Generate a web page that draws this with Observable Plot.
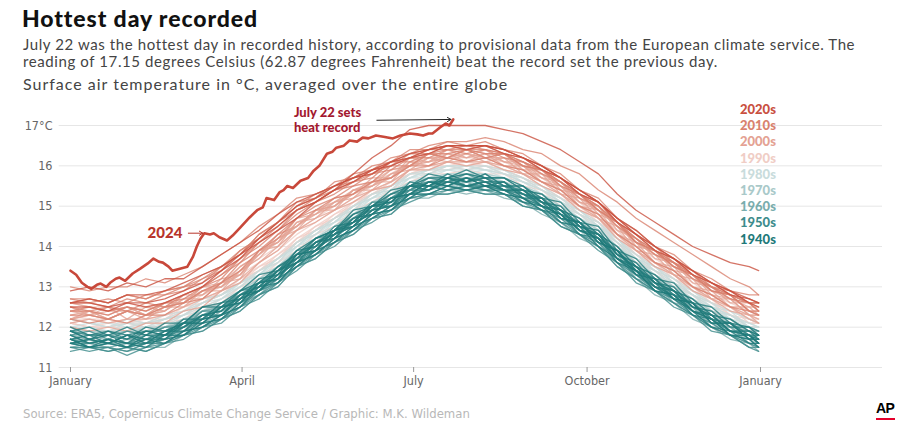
<!DOCTYPE html>
<html><head><meta charset="utf-8">
<script src="https://cdn.jsdelivr.net/npm/d3@7"></script>
<script src="https://cdn.jsdelivr.net/npm/@observablehq/plot@0.6"></script>
<style>
body{margin:0;background:#fff;}
#wrap{position:relative;width:920px;height:434px;overflow:hidden;font-family:Lato,"Open Sans",sans-serif;background:#fff;}
.title{position:absolute;left:22px;top:6px;font-size:23px;line-height:24px;font-weight:900;color:#111;letter-spacing:0.9px;white-space:nowrap;}
.sub{position:absolute;left:23px;top:36px;font-size:15px;line-height:17px;color:#444;width:835px;letter-spacing:0.6px;}
.unit{position:absolute;left:23px;top:75px;font-size:16px;line-height:18px;color:#444;letter-spacing:1px;white-space:nowrap;}
#chart{position:absolute;left:0;top:95px;}
.legend{position:absolute;left:740px;top:101px;}
.legend div{font-size:13px;line-height:16.2px;font-weight:900;white-space:nowrap;}
.source{position:absolute;left:23px;top:407px;font-family:"Liberation Sans Narrow","DejaVu Sans Condensed",sans-serif;font-size:13px;line-height:14px;color:#b8b8b8;white-space:nowrap;}
.ap{position:absolute;left:876px;top:401px;font-family:"Liberation Sans",Arial,sans-serif;font-weight:bold;font-size:14px;line-height:15px;color:#000;letter-spacing:-0.5px;}
.apbar{position:absolute;left:876px;top:418px;width:19px;height:2px;background:#e4002b;}
</style></head><body>
<div id="wrap">
  <div class="title">Hottest day recorded</div>
  <div class="sub">July 22 was the hottest day in recorded history, according to provisional data from the European climate service. The reading of 17.15 degrees Celsius (62.87 degrees Fahrenheit) beat the record set the previous day.</div>
  <div class="unit">Surface air temperature in °C, averaged over the entire globe</div>
  <div id="chart"></div>
  <div class="legend" id="legend"></div>
  <div class="source">Source: ERA5, Copernicus Climate Change Service / Graphic: M.K. Wildeman</div>
  <div class="ap">AP</div>
  <div class="apbar"></div>
</div>
<script>
// ---- data: day of year (0 = Jan 1) and daily global mean temperature, °C ----
const days = [0,10,20,30,40,50,60,70,80,90,100,110,120,130,140,150,160,170,180,190,200,210,220,230,240,250,260,270,280,290,300,310,320,330,340,350,360,365];

const y1940s = [
[11.7,11.8,11.6,11.8,11.6,11.9,11.9,12.3,12.3,12.8, 12.9,13.4,13.6,14.1,14.2,14.7,14.8,15.2,15.3,15.6, 15.5,15.7,15.5,15.6,15.2,15.2,14.7,14.6,14.1,13.9, 13.3,13.2,12.7,12.6,12.1,12.1,11.7,11.8],
[11.9,11.7,11.9,11.8,11.9,11.8,12.2,12.2,12.6,12.7, 13.2,13.3,13.9,14.0,14.5,14.6,15.1,15.1,15.6,15.5, 15.8,15.6,15.8,15.5,15.5,15.1,15.0,14.5,14.4,13.8, 13.6,13.1,13.0,12.5,12.4,12.0,12.0,11.8],
[12.0,11.8,11.9,11.7,12.0,11.9,12.1,12.5,12.5,12.9, 13.1,13.5,13.8,14.2,14.4,14.8,15.0,15.3,15.5,15.7, 15.7,15.8,15.7,15.7,15.4,15.3,14.9,14.7,14.3,14.0, 13.5,13.3,12.9,12.7,12.3,12.2,11.9,11.8],
[11.8,11.6,11.7,11.5,11.8,11.7,12.1,12.1,12.5,12.6, 13.1,13.2,13.8,13.9,14.4,14.5,15.0,15.0,15.5,15.4, 15.7,15.5,15.6,15.4,15.4,15.0,14.9,14.4,14.3,13.7, 13.5,13.0,12.9,12.4,12.3,11.9,11.9,11.7],
[11.9,12.0,11.8,12.0,11.8,12.1,12.1,12.5,12.6,12.9, 13.3,13.4,13.9,14.2,14.4,14.9,15.0,15.4,15.5,15.8, 15.7,15.9,15.7,15.7,15.5,15.2,15.1,14.6,14.5,13.9, 13.7,13.2,13.1,12.6,12.5,12.1,12.0,11.9],
[11.9,11.7,11.8,11.6,11.9,11.8,12.0,12.3,12.4,12.8, 13.0,13.4,13.7,14.1,14.3,14.6,15.0,15.1,15.5,15.5, 15.7,15.6,15.7,15.4,15.4,15.1,14.9,14.5,14.3,13.8, 13.5,13.1,12.9,12.5,12.3,11.9,11.8,11.6],
[11.6,11.5,11.6,11.5,11.6,11.7,11.8,12.1,12.2,12.6, 12.9,13.2,13.5,13.9,14.1,14.5,14.7,15.0,15.2,15.5, 15.4,15.5,15.4,15.4,15.1,15.0,14.6,14.5,14.0,13.7, 13.3,13.0,12.7,12.4,12.0,11.9,11.6,11.6],
[11.7,11.5,11.7,11.6,11.5,11.8,11.8,12.2,12.3,12.7, 12.9,13.3,13.6,13.9,14.3,14.5,14.9,15.0,15.3,15.4, 15.6,15.5,15.5,15.4,15.2,15.0,14.8,14.4,14.2,13.7, 13.4,12.9,12.8,12.4,12.2,11.8,11.8,11.6],
[11.6,11.7,11.6,11.8,11.7,11.8,12.1,12.1,12.5,12.6, 13.1,13.2,13.8,13.9,14.4,14.6,14.8,15.2,15.3,15.6, 15.5,15.7,15.5,15.5,15.3,15.1,14.7,14.6,14.1,13.9, 13.4,13.1,12.7,12.6,12.1,12.1,11.7,11.7],
[11.7,11.5,11.6,11.5,11.7,11.6,11.9,12.0,12.3,12.5, 13.0,13.1,13.6,13.8,14.2,14.4,14.8,14.9,15.3,15.3, 15.5,15.4,15.5,15.3,15.2,14.9,14.8,14.3,14.2,13.6, 13.4,12.9,12.8,12.3,12.2,11.8,11.7,11.5]
];
const y1950s = [
[11.5,11.5,11.4,11.5,11.4,11.6,11.7,12.0,12.1,12.5, 12.7,13.1,13.4,13.8,14.0,14.4,14.6,14.9,15.1,15.3, 15.3,15.4,15.3,15.3,15.0,14.9,14.5,14.3,14.0,13.5, 13.2,12.9,12.6,12.3,12.0,11.8,11.6,11.5],
[11.6,11.7,11.6,11.8,11.7,11.9,12.0,12.3,12.4,12.8, 13.0,13.4,13.7,14.1,14.3,14.7,14.9,15.2,15.4,15.6, 15.6,15.7,15.6,15.6,15.3,15.2,14.8,14.6,14.2,13.9, 13.4,13.2,12.8,12.6,12.2,12.1,11.8,11.8],
[11.8,11.6,11.7,11.6,11.6,11.8,11.9,12.2,12.3,12.7, 12.9,13.3,13.6,14.0,14.2,14.6,14.8,15.1,15.3,15.5, 15.6,15.5,15.6,15.4,15.3,15.0,14.8,14.4,14.2,13.7, 13.4,13.0,12.8,12.4,12.2,11.9,11.8,11.6],
[11.8,11.9,11.7,11.9,11.8,12.0,12.0,12.4,12.4,12.9, 13.0,13.5,13.7,14.2,14.3,14.8,14.9,15.3,15.4,15.7, 15.6,15.8,15.6,15.6,15.3,15.2,14.8,14.6,14.2,13.9, 13.4,13.2,12.8,12.6,12.2,12.1,11.8,11.7],
[11.6,11.5,11.5,11.4,11.6,11.6,11.9,12.0,12.3,12.5, 12.9,13.1,13.6,13.8,14.2,14.4,14.8,14.9,15.3,15.3, 15.5,15.4,15.5,15.3,15.2,14.9,14.7,14.3,14.1,13.6, 13.3,12.9,12.7,12.3,12.1,11.8,11.7,11.5],
[11.5,11.4,11.5,11.3,11.5,11.6,11.8,12.0,12.2,12.5, 12.8,13.1,13.5,13.8,14.1,14.4,14.7,14.9,15.2,15.3, 15.4,15.4,15.4,15.3,15.1,14.9,14.6,14.3,14.0,13.6, 13.2,12.9,12.6,12.3,12.0,11.8,11.5,11.4],
[11.4,11.5,11.4,11.5,11.4,11.6,11.8,11.9,12.2,12.4, 12.8,13.0,13.5,13.7,14.1,14.3,14.7,14.8,15.2,15.3, 15.3,15.4,15.3,15.3,15.0,14.9,14.5,14.3,13.9,13.6, 13.1,12.9,12.5,12.3,11.9,11.8,11.5,11.5],
[11.6,11.6,11.7,11.6,11.8,11.8,12.1,12.2,12.5,12.7, 13.1,13.3,13.8,14.0,14.4,14.6,15.0,15.1,15.5,15.5, 15.7,15.6,15.7,15.5,15.4,15.1,14.9,14.5,14.3,13.8, 13.5,13.1,12.9,12.5,12.3,11.9,11.9,11.8],
[11.9,11.8,11.8,11.7,11.9,11.9,12.1,12.3,12.5,12.8, 13.1,13.4,13.8,14.1,14.4,14.7,15.0,15.2,15.5,15.6, 15.6,15.7,15.6,15.6,15.3,15.2,14.8,14.6,14.2,13.9, 13.4,13.2,12.8,12.6,12.2,12.1,11.8,11.7],
[11.7,11.6,11.7,11.6,11.7,11.7,12.0,12.2,12.3,12.7, 13.0,13.2,13.7,13.9,14.3,14.5,14.9,15.0,15.4,15.4, 15.6,15.5,15.6,15.4,15.3,15.0,14.8,14.4,14.2,13.7, 13.4,13.0,12.8,12.4,12.2,11.9,11.8,11.6]
];
const y1960s = [
[11.7,11.7,11.6,11.8,11.6,11.9,11.9,12.3,12.3,12.8, 12.9,13.4,13.6,14.1,14.2,14.7,14.8,15.2,15.3,15.6, 15.5,15.7,15.5,15.6,15.2,15.2,14.7,14.6,14.1,13.9, 13.3,13.2,12.7,12.6,12.1,12.1,11.7,11.7],
[11.7,11.8,11.8,11.7,11.9,11.9,12.2,12.2,12.6,12.8, 13.1,13.4,13.8,14.1,14.3,14.7,15.0,15.2,15.4,15.6, 15.7,15.6,15.8,15.5,15.5,15.1,15.0,14.5,14.4,13.8, 13.6,13.1,13.0,12.5,12.4,12.0,12.0,11.8],
[11.8,11.7,11.8,11.7,11.7,11.9,12.0,12.3,12.4,12.8, 13.0,13.4,13.7,14.1,14.3,14.7,14.9,15.2,15.4,15.6, 15.6,15.7,15.6,15.6,15.3,15.2,14.8,14.6,14.2,13.9, 13.4,13.2,12.8,12.6,12.2,12.1,11.8,11.7],
[11.7,11.6,11.8,11.7,11.8,11.8,12.1,12.2,12.5,12.7, 13.1,13.3,13.8,14.0,14.4,14.6,15.0,15.1,15.5,15.5, 15.7,15.6,15.7,15.5,15.4,15.2,14.9,14.6,14.3,13.9, 13.5,13.2,12.9,12.6,12.3,12.0,11.9,11.8],
[11.7,11.5,11.5,11.4,11.5,11.5,11.8,11.9,12.2,12.4, 12.8,13.0,13.5,13.7,14.1,14.3,14.7,14.8,15.2,15.2, 15.4,15.3,15.4,15.2,15.1,14.8,14.6,14.2,14.0,13.5, 13.2,12.8,12.6,12.2,12.0,11.7,11.6,11.4],
[11.5,11.6,11.5,11.6,11.5,11.7,11.8,12.1,12.2,12.6, 12.8,13.2,13.5,13.9,14.1,14.5,14.7,15.0,15.2,15.5, 15.4,15.6,15.4,15.5,15.1,15.1,14.6,14.5,14.0,13.8, 13.2,13.1,12.6,12.5,12.0,12.0,11.6,11.6],
[11.8,11.6,11.7,11.5,11.7,11.7,12.0,12.1,12.4,12.6, 13.1,13.2,13.8,13.9,14.4,14.5,15.0,15.0,15.5,15.4, 15.7,15.5,15.6,15.4,15.4,15.0,14.9,14.4,14.3,13.7, 13.5,13.0,12.9,12.4,12.3,11.9,11.8,11.6],
[11.6,11.7,11.6,11.7,11.6,11.8,11.9,12.2,12.3,12.7, 12.9,13.3,13.6,14.0,14.2,14.6,14.8,15.1,15.3,15.5, 15.5,15.6,15.5,15.5,15.2,15.1,14.7,14.5,14.1,13.8, 13.3,13.1,12.7,12.5,12.1,12.0,11.7,11.7],
[11.7,11.6,11.6,11.6,11.6,11.7,11.9,12.1,12.3,12.6, 13.0,13.2,13.7,13.9,14.3,14.5,14.9,15.0,15.4,15.4, 15.6,15.5,15.6,15.4,15.3,15.0,14.8,14.4,14.2,13.7, 13.4,13.0,12.8,12.4,12.2,11.9,11.8,11.8],
[11.9,11.8,11.8,11.9,11.8,12.0,12.1,12.4,12.5,12.9, 13.1,13.5,13.8,14.2,14.4,14.8,15.0,15.3,15.5,15.7, 15.7,15.8,15.7,15.7,15.4,15.3,14.9,14.7,14.3,14.0, 13.5,13.3,12.9,12.7,12.3,12.2,11.9,11.9]
];
const y1970s = [
[11.9,11.8,11.8,11.7,11.9,11.9,12.1,12.3,12.5,12.8, 13.1,13.4,13.8,14.1,14.4,14.7,15.0,15.2,15.5,15.6, 15.6,15.7,15.6,15.6,15.3,15.2,14.8,14.6,14.2,13.9, 13.4,13.2,12.8,12.6,12.2,12.1,11.7,11.6],
[11.6,11.5,11.6,11.5,11.6,11.6,11.9,12.0,12.3,12.5, 12.9,13.1,13.6,13.8,14.2,14.4,14.8,14.9,15.3,15.4, 15.5,15.5,15.5,15.4,15.2,15.0,14.7,14.4,14.1,13.7, 13.3,13.0,12.7,12.4,12.1,11.9,11.7,11.6],
[11.6,11.7,11.6,11.8,11.7,11.9,12.0,12.3,12.4,12.8, 13.0,13.4,13.7,14.1,14.3,14.7,14.9,15.2,15.4,15.6, 15.6,15.7,15.7,15.6,15.4,15.2,14.9,14.6,14.3,13.9, 13.6,13.2,13.0,12.6,12.4,12.1,12.0,11.9],
[12.0,11.9,11.9,11.8,12.0,12.0,12.2,12.4,12.6,12.9, 13.2,13.5,13.9,14.2,14.5,14.8,15.1,15.3,15.6,15.7, 15.7,15.8,15.7,15.6,15.4,15.2,14.9,14.6,14.2,13.9, 13.4,13.1,12.8,12.5,12.2,12.0,11.7,11.6],
[11.6,11.6,11.5,11.6,11.5,11.7,11.8,12.1,12.2,12.6, 12.8,13.2,13.5,13.9,14.1,14.5,14.7,15.0,15.2,15.5, 15.4,15.5,15.4,15.4,15.1,15.0,14.6,14.4,14.0,13.7, 13.2,13.0,12.6,12.4,12.0,11.8,11.6,11.5],
[11.6,11.7,11.6,11.6,11.7,11.7,12.0,12.1,12.4,12.6, 13.0,13.2,13.7,13.9,14.3,14.5,14.9,15.0,15.4,15.4, 15.6,15.5,15.5,15.4,15.2,14.9,14.7,14.4,14.1,13.7, 13.3,13.0,12.7,12.4,12.1,11.8,11.6,11.5],
[11.5,11.5,11.5,11.4,11.6,11.6,11.9,12.0,12.3,12.5, 12.9,13.1,13.6,13.8,14.2,14.4,14.8,14.9,15.3,15.3, 15.5,15.4,15.5,15.4,15.2,15.0,14.8,14.5,14.2,13.8, 13.5,13.1,12.9,12.5,12.3,12.0,11.9,11.8],
[11.9,11.9,11.8,11.9,11.9,12.0,12.1,12.4,12.5,12.9, 13.1,13.5,13.8,14.2,14.4,14.8,15.0,15.3,15.5,15.7, 15.7,15.7,15.7,15.6,15.4,15.3,14.9,14.7,14.3,14.0, 13.5,13.3,12.9,12.6,12.3,12.1,11.8,11.7],
[11.8,11.7,11.8,11.7,11.8,11.8,12.1,12.2,12.5,12.7, 13.1,13.3,13.8,14.0,14.4,14.6,15.0,15.1,15.5,15.5, 15.7,15.6,15.7,15.5,15.4,15.2,14.9,14.6,14.3,13.9, 13.5,13.2,12.9,12.6,12.3,12.1,11.9,11.9],
[11.8,11.8,11.7,11.9,11.8,12.0,12.1,12.4,12.5,12.9, 13.1,13.5,13.8,14.2,14.4,14.8,15.0,15.3,15.5,15.7, 15.8,15.8,15.8,15.7,15.5,15.3,15.0,14.7,14.4,14.0, 13.6,13.3,13.0,12.7,12.4,12.2,11.9,11.9]
];
const y1980s = [
[11.9,12.0,11.9,12.1,12.0,12.2,12.3,12.6,12.7,13.1, 13.3,13.7,14.0,14.4,14.6,15.0,15.2,15.5,15.7,15.9, 15.9,16.0,15.9,15.8,15.6,15.4,15.1,14.9,14.5,14.2, 13.7,13.5,13.1,12.9,12.5,12.4,12.0,11.9],
[12.0,12.0,11.9,12.0,12.0,12.1,12.3,12.5,12.7,13.0, 13.3,13.6,14.0,14.3,14.6,14.9,15.2,15.4,15.7,15.8, 15.9,15.9,15.9,15.8,15.6,15.4,15.1,14.8,14.5,14.1, 13.7,13.4,13.1,12.8,12.5,12.3,12.1,12.0],
[12.0,11.8,11.8,11.8,11.9,11.9,12.2,12.3,12.6,12.8, 13.2,13.4,13.9,14.1,14.5,14.7,15.1,15.2,15.6,15.6, 15.8,15.7,15.8,15.6,15.5,15.2,15.0,14.7,14.4,14.0, 13.6,13.3,13.0,12.7,12.4,12.1,12.0,12.0],
[12.2,12.1,12.1,12.0,12.1,12.2,12.3,12.6,12.8,13.0, 13.4,13.6,14.1,14.3,14.7,14.9,15.3,15.4,15.8,15.8, 16.0,15.9,16.0,15.8,15.7,15.4,15.2,14.8,14.6,14.1, 13.8,13.4,13.2,12.8,12.6,12.2,12.0,11.8],
[11.8,11.8,11.8,11.9,11.8,12.0,12.1,12.4,12.5,12.9, 13.1,13.5,13.8,14.2,14.4,14.8,15.0,15.3,15.5,15.7, 15.7,15.8,15.7,15.7,15.4,15.3,14.9,14.7,14.3,14.0, 13.5,13.3,12.9,12.7,12.3,12.2,11.8,11.8],
[11.8,11.7,11.7,11.6,11.8,11.8,12.1,12.2,12.5,12.7, 13.1,13.3,13.8,14.0,14.4,14.6,15.0,15.1,15.5,15.5, 15.7,15.6,15.7,15.5,15.4,15.2,14.9,14.6,14.3,13.9, 13.5,13.2,12.9,12.6,12.3,12.1,11.9,11.8],
[11.9,11.9,11.8,12.0,11.9,12.0,12.2,12.4,12.6,12.9, 13.2,13.5,13.9,14.2,14.5,14.8,15.1,15.3,15.6,15.7, 15.8,15.8,15.8,15.7,15.5,15.3,15.0,14.8,14.4,14.1, 13.6,13.4,13.0,12.8,12.4,12.3,12.0,12.0],
[12.0,12.1,12.0,12.1,12.1,12.2,12.4,12.6,12.8,13.1, 13.3,13.7,14.0,14.4,14.6,15.0,15.2,15.5,15.7,15.9, 16.0,16.0,16.0,15.9,15.7,15.5,15.2,14.9,14.6,14.2, 13.8,13.5,13.2,12.9,12.6,12.4,12.2,12.1],
[12.2,12.1,12.0,12.2,12.1,12.3,12.4,12.7,12.8,13.1, 13.4,13.7,14.1,14.4,14.7,15.0,15.3,15.5,15.8,15.9, 16.0,16.0,15.9,15.9,15.6,15.5,15.1,14.9,14.5,14.2, 13.7,13.5,13.1,12.8,12.5,12.3,12.0,11.9],
[11.9,11.9,11.9,11.9,12.0,12.0,12.3,12.4,12.7,12.9, 13.3,13.5,14.0,14.2,14.6,14.8,15.2,15.3,15.7,15.7, 15.9,15.8,15.9,15.7,15.6,15.3,15.1,14.7,14.5,14.0, 13.7,13.3,13.1,12.7,12.5,12.2,12.1,12.0]
];
const y1990s = [
[12.1,12.2,12.1,12.2,12.1,12.3,12.4,12.7,12.8,13.2, 13.4,13.8,14.1,14.5,14.7,15.1,15.3,15.6,15.8,16.0, 16.0,16.1,16.0,15.9,15.7,15.5,15.2,15.0,14.6,14.3, 13.8,13.6,13.2,13.0,12.6,12.5,12.1,12.1],
[12.2,12.1,12.0,12.1,12.1,12.2,12.4,12.6,12.8,13.1, 13.4,13.7,14.1,14.4,14.7,15.0,15.3,15.5,15.8,15.9, 15.9,16.0,15.9,15.8,15.6,15.4,15.1,14.8,14.5,14.1, 13.7,13.4,13.1,12.8,12.5,12.3,12.0,12.0],
[12.0,11.9,11.9,11.9,12.0,12.0,12.2,12.4,12.6,12.9, 13.2,13.5,13.9,14.2,14.5,14.8,15.1,15.3,15.5,15.6, 15.7,15.7,15.7,15.6,15.4,15.2,14.9,14.7,14.3,14.0, 13.6,13.3,13.0,12.7,12.4,12.2,11.9,11.9],
[11.9,11.9,11.9,12.0,11.9,12.1,12.2,12.5,12.6,13.0, 13.2,13.6,13.9,14.3,14.5,14.9,15.1,15.4,15.6,15.8, 15.8,15.9,15.8,15.8,15.5,15.4,15.0,14.8,14.4,14.1, 13.6,13.4,13.0,12.8,12.4,12.3,12.0,12.0],
[12.1,12.0,12.1,12.1,12.2,12.2,12.5,12.6,12.9,13.1, 13.5,13.7,14.2,14.4,14.8,15.0,15.4,15.5,15.9,15.9, 16.1,16.0,16.1,15.9,15.8,15.5,15.3,14.9,14.7,14.2, 13.9,13.5,13.3,12.9,12.7,12.3,12.2,12.1],
[12.3,12.2,12.2,12.1,12.3,12.3,12.5,12.7,12.9,13.2, 13.5,13.8,14.2,14.5,14.8,15.1,15.4,15.6,15.9,16.0, 16.1,16.1,16.1,16.0,15.8,15.6,15.3,15.0,14.7,14.3, 13.9,13.6,13.3,13.0,12.7,12.5,12.2,12.1],
[12.1,12.0,12.0,12.1,12.0,12.2,12.3,12.6,12.8,13.1, 13.4,13.7,14.1,14.4,14.7,15.0,15.3,15.5,15.8,15.9, 16.0,16.0,16.0,15.9,15.7,15.5,15.2,14.9,14.6,14.2, 13.8,13.5,13.2,12.9,12.6,12.4,12.2,12.2],
[12.2,12.2,12.1,12.2,12.2,12.3,12.5,12.8,13.0,13.3, 13.6,13.9,14.3,14.6,14.9,15.2,15.5,15.7,16.0,16.1, 16.2,16.2,16.2,16.1,15.9,15.7,15.4,15.1,14.8,14.4, 14.0,13.7,13.4,13.1,12.8,12.6,12.4,12.4],
[12.6,12.5,12.5,12.4,12.5,12.5,12.7,12.9,13.1,13.4, 13.7,14.0,14.4,14.7,15.0,15.3,15.6,15.8,16.1,16.2, 16.3,16.3,16.2,16.1,15.9,15.7,15.4,15.1,14.7,14.4, 13.9,13.6,13.3,13.0,12.7,12.5,12.3,12.2],
[12.1,12.0,12.0,12.0,12.1,12.1,12.3,12.5,12.7,13.0, 13.4,13.6,14.1,14.3,14.7,14.9,15.3,15.4,15.8,15.8, 16.0,15.9,16.0,15.8,15.7,15.4,15.2,14.8,14.6,14.1, 13.8,13.4,13.2,12.8,12.6,12.3,12.1,12.1]
];
const y2000s = [
[12.1,12.2,12.1,12.2,12.2,12.3,12.5,12.7,12.9,13.2, 13.6,14.0,14.4,14.7,14.9,15.2,15.4,15.6,15.9,16.0, 16.1,16.1,16.1,16.0,15.8,15.6,15.3,15.0,14.7,14.3, 13.9,13.6,13.3,13.0,12.7,12.5,12.2,12.1],
[12.2,12.4,12.2,12.4,12.2,12.5,12.5,12.9,12.9,13.4, 13.7,14.2,14.4,14.9,14.9,15.4,15.4,15.8,15.9,16.2, 16.1,16.3,16.1,16.2,15.8,15.8,15.3,15.2,14.7,14.5, 13.9,13.8,13.3,13.2,12.7,12.7,12.3,12.3],
[12.4,12.3,12.5,12.2,12.5,12.4,12.8,12.8,13.2,13.3, 13.9,14.1,14.7,14.8,15.2,15.3,15.7,15.7,16.2,16.1, 16.4,16.2,16.4,16.1,16.1,15.7,15.6,15.1,15.0,14.4, 14.2,13.7,13.6,13.1,13.0,12.6,12.6,12.4],
[12.5,12.3,12.4,12.4,12.3,12.6,12.6,13.0,13.0,13.5, 13.8,14.3,14.5,14.9,15.0,15.4,15.5,15.9,16.0,16.3, 16.2,16.4,16.2,16.3,15.9,15.9,15.4,15.3,14.8,14.6, 14.0,13.9,13.4,13.3,12.8,12.7,12.3,12.3],
[12.4,12.4,12.2,12.4,12.3,12.4,12.7,12.7,13.1,13.2, 13.9,14.0,14.6,14.7,15.1,15.2,15.6,15.6,16.1,16.0, 16.3,16.1,16.3,16.0,16.0,15.6,15.5,15.0,14.9,14.3, 14.1,13.6,13.5,13.0,12.9,12.5,12.5,12.3],
[12.3,12.4,12.3,12.5,12.3,12.6,12.6,13.0,13.1,13.5, 13.8,14.3,14.5,14.9,15.1,15.4,15.6,15.9,16.0,16.3, 16.2,16.4,16.3,16.3,16.0,15.9,15.5,15.3,14.9,14.6, 14.1,13.9,13.5,13.3,12.9,12.8,12.4,12.4],
[12.2,12.3,12.2,12.4,12.3,12.5,12.6,12.9,13.0,13.4, 13.8,14.2,14.5,14.9,15.0,15.4,15.5,15.8,16.0,16.2, 16.2,16.3,16.2,16.2,16.0,15.8,15.5,15.2,14.9,14.5, 14.1,13.8,13.5,13.2,12.9,12.7,12.5,12.5],
[12.6,12.5,12.4,12.5,12.3,12.5,12.6,12.9,13.0,13.3, 13.8,14.1,14.5,14.8,15.0,15.3,15.5,15.7,16.0,16.1, 16.2,16.1,16.2,16.0,15.9,15.6,15.4,15.0,14.8,14.3, 14.0,13.6,13.4,13.0,12.8,12.5,12.3,12.1],
[12.0,11.9,12.0,11.9,12.1,12.1,12.4,12.5,12.9,13.1, 13.6,13.9,14.4,14.6,14.9,15.1,15.4,15.5,15.9,15.9, 16.1,16.0,16.1,15.9,15.8,15.5,15.3,14.9,14.7,14.2, 13.9,13.5,13.3,12.9,12.7,12.4,12.3,12.2],
[12.2,12.3,12.2,12.4,12.3,12.4,12.7,12.8,13.1,13.3, 13.9,14.1,14.6,14.8,15.1,15.3,15.6,15.7,16.1,16.1, 16.3,16.2,16.3,16.1,16.0,15.7,15.5,15.1,14.9,14.5, 14.1,13.8,13.6,13.2,13.0,12.7,12.6,12.5]
];
const y2010s = [
[12.6,12.7,12.6,12.8,12.7,12.9,13.0,13.3,13.5,13.9, 14.2,14.6,14.9,15.2,15.4,15.7,15.8,16.1,16.2,16.4, 16.4,16.5,16.4,16.3,16.1,15.9,15.6,15.3,14.9,14.6, 14.1,13.9,13.5,13.3,12.9,12.8,12.4,12.3],
[12.2,12.1,12.2,12.1,12.3,12.3,12.6,12.7,13.1,13.4, 13.9,14.2,14.7,14.9,15.2,15.3,15.6,15.7,16.0,16.0, 16.2,16.1,16.2,16.0,15.9,15.6,15.4,15.0,14.8,14.3, 14.0,13.6,13.4,13.0,12.8,12.5,12.4,12.3],
[12.3,12.3,12.2,12.4,12.3,12.5,12.6,12.9,13.1,13.6, 13.9,14.3,14.7,15.0,15.2,15.5,15.6,16.0,16.0,16.3, 16.2,16.4,16.2,16.3,16.0,15.9,15.5,15.3,14.9,14.6, 14.1,13.9,13.5,13.3,12.9,12.8,12.4,12.4],
[12.4,12.5,12.4,12.5,12.4,12.6,12.8,13.0,13.3,13.6, 14.1,14.4,14.9,15.1,15.4,15.5,15.8,15.9,16.2,16.2, 16.4,16.3,16.4,16.2,16.1,15.8,15.6,15.2,15.0,14.5, 14.2,13.8,13.6,13.2,13.0,12.7,12.6,12.4],
[12.5,12.4,12.5,12.4,12.6,12.5,12.8,13.0,13.3,13.7, 14.1,14.5,14.9,15.1,15.4,15.6,15.8,16.0,16.2,16.3, 16.4,16.4,16.4,16.3,16.1,15.9,15.6,15.3,15.0,14.6, 14.2,13.9,13.6,13.3,13.0,12.8,12.6,12.6],
[12.6,12.6,12.5,12.7,12.6,12.8,12.9,13.2,13.4,13.9, 14.2,14.6,15.0,15.3,15.5,15.8,15.9,16.2,16.3,16.5, 16.6,16.6,16.7,16.6,16.4,16.3,16.0,15.8,15.4,15.1, 14.7,14.4,14.1,13.8,13.5,13.2,13.0,12.8],
[13.0,12.9,13.0,13.0,13.2,13.1,13.3,13.5,13.8,14.1, 14.5,14.8,15.2,15.3,15.5,15.7,15.9,16.1,16.3,16.4, 16.5,16.5,16.5,16.4,16.2,16.0,15.7,15.4,15.1,14.7, 14.3,14.0,13.6,13.4,13.0,12.9,12.6,12.6],
[12.7,12.6,12.7,12.6,12.8,12.8,13.0,13.1,13.5,13.8, 14.3,14.6,15.0,15.2,15.5,15.6,15.9,16.0,16.3,16.3, 16.5,16.4,16.5,16.3,16.2,15.9,15.7,15.3,15.1,14.6, 14.3,13.9,13.7,13.3,13.1,12.8,12.6,12.4],
[12.4,12.4,12.3,12.5,12.4,12.6,12.7,13.0,13.2,13.7, 14.0,14.4,14.8,15.1,15.3,15.6,15.7,16.1,16.1,16.3, 16.3,16.4,16.3,16.3,16.0,15.9,15.6,15.3,15.0,14.6, 14.2,13.9,13.6,13.3,13.0,12.8,12.6,12.6],
[12.7,12.7,12.6,12.8,12.7,12.9,13.0,13.2,13.5,13.8, 14.3,14.6,15.1,15.2,15.6,15.7,16.0,16.1,16.4,16.4, 16.6,16.5,16.6,16.4,16.3,16.0,15.8,15.4,15.2,14.7, 14.4,14.0,13.8,13.4,13.2,12.9,12.8,12.8]
];
const y2020s = [
[12.9,13.0,12.9,13.1,13.0,13.2,13.2,13.5,13.8,14.1, 14.4,14.8,15.1,15.3,15.5,15.7,15.8,16.1,16.2,16.4, 16.5,16.5,16.5,16.4,16.2,16.0,15.7,15.4,15.1,14.7, 14.4,14.0,13.7,13.4,13.1,12.9,12.6,12.5],
[12.5,12.5,12.4,12.6,12.5,12.6,12.8,13.0,13.4,13.7, 14.2,14.5,14.9,15.1,15.4,15.6,15.9,16.0,16.2,16.3, 16.5,16.4,16.5,16.3,16.2,15.9,15.7,15.3,15.1,14.6, 14.3,13.9,13.7,13.3,13.1,12.8,12.7,12.6],
[12.6,12.6,12.5,12.6,12.6,12.7,12.9,13.1,13.4,13.8, 14.2,14.6,15.0,15.2,15.5,15.7,15.9,16.1,16.3,16.4, 16.5,16.5,16.5,16.4,16.2,16.0,15.7,15.4,15.1,14.7, 14.3,14.0,13.7,13.4,13.1,12.9,12.7,12.6],
[12.6,12.7,12.6,12.8,12.8,12.9,13.1,13.3,13.5,13.8, 14.1,14.4,14.7,15.1,15.4,15.8,16.2,16.5,16.9,17.0, 17.0,17.0,17.0,16.9,16.8,16.6,16.4,16.1,15.8,15.3, 14.9,14.6,14.3,14.0,13.8,13.6,13.5,13.4]
];

// 2024 (partial year, through July 22)
const days2024 = [0,3,6,9,11,14,16,19,21,24,26,29,33,37,41,44,47,49,52,54,58,62,65,67,69,71,74,76,79,83,86,90,95,99,102,104,108,111,113,115,118,122,126,129,132,136,139,141,145,148,152,155,158,162,166,171,175,180,184,187,190,192,196,199,201,203];
const temps2024 = [13.4,13.3,13.1,13.0,12.95,13.05,13.08,13.0,13.1,13.2,13.23,13.15,13.33,13.45,13.58,13.7,13.62,13.6,13.5,13.4,13.45,13.5,13.75,14.0,14.2,14.33,14.3,14.33,14.23,14.15,14.27,14.47,14.72,14.9,14.97,15.2,15.15,15.35,15.4,15.5,15.45,15.63,15.7,15.88,16.0,16.3,16.35,16.45,16.5,16.63,16.6,16.7,16.68,16.75,16.72,16.68,16.75,16.8,16.78,16.75,16.8,16.8,16.95,17.05,17.0,17.15];

const decades = ["2020s","2010s","2000s","1990s","1980s","1970s","1960s","1950s","1940s"];
const decadeColors = ["#c9503f","#d9826f","#e4a293","#f0cdc5","#c9dcdc","#a9c9c9","#7aadad","#3e8c8c","#1f7a7a"];
const decadeYears = {"1940s":y1940s,"1950s":y1950s,"1960s":y1960s,"1970s":y1970s,"1980s":y1980s,"1990s":y1990s,"2000s":y2000s,"2010s":y2010s,"2020s":y2020s};
const drawOrder = ["1990s","1980s","1970s","2000s","1960s","2010s","1950s","2020s","1940s"];

const yTicks = [11,12,13,14,15,16,17];
const xTicks = [0,91,182,274,366];
const xTickLabels = ["January","April","July","October","January"];
const xMax = 430.7;

// ---- build ----
const colorOf = d => decadeColors[decades.indexOf(d)];
function rowsFor(dec) {
  const start = +dec.slice(0,4);
  return decadeYears[dec].flatMap((vals, i) =>
    vals.map((t, j) => ({year: start + i, day: days[j], t})).filter(r => r.day !== undefined));
}
const rows2024 = days2024.map((d, i) => ({day: d, t: temps2024[i]}));
const recordPt = rows2024[rows2024.length - 1];
const labelPt = rows2024.find(r => r.day === 71);

const lineMarks = drawOrder.map(dec => Plot.line(rowsFor(dec), {
  x: "day", y: "t", z: "year", stroke: colorOf(dec), strokeWidth: 1.3, strokeOpacity: 0.8
}));

const chart = Plot.plot({
  width: 920, height: 300,
  marginLeft: 70, marginRight: 38, marginTop: 30, marginBottom: 28,
  x: {domain: [0, xMax]},
  y: {domain: [11, 17]},
  style: {fontFamily: "'Liberation Sans Narrow','DejaVu Sans Condensed',sans-serif", fontSize: "12.5px", color: "#666", background: "transparent", overflow: "visible"},
  marks: [
    Plot.ruleY(yTicks, {x1: -6, x2: xMax, stroke: "#e6e6e6", strokeWidth: 1}),
    ...lineMarks,
    Plot.line(rows2024, {x: "day", y: "t", stroke: "#c8483a", strokeWidth: 2.6, strokeLinejoin: "round"}),
    Plot.axisY(yTicks, {tickSize: 0, tickPadding: 18, tickFormat: d => d === 17 ? "17°C" : String(d), fill: "#666", label: null}),
    Plot.axisX(xTicks, {tickSize: 5, tickPadding: 4, tickFormat: (d, i) => xTickLabels[i], stroke: "#9a9a9a", fill: "#666", label: null}),
    Plot.text([labelPt], {x: "day", y: "t", text: () => "2024", textAnchor: "end", dx: -22, fill: "#b8352b", fontFamily: "Lato", fontWeight: 900, fontSize: 15}),
    Plot.arrow([labelPt], {x1: d => d.day - 8.5, y1: "t", x2: d => d.day - 0.8, y2: "t", stroke: "#b8352b", strokeWidth: 1, headLength: 6, bend: 0}),
    Plot.text([recordPt], {x: d => d.day - 84.5, y: "t", text: () => "July 22 sets", textAnchor: "start", dy: -6.5, fill: "#a3192f", fontFamily: "Lato", fontWeight: 900, fontSize: 13}),
    Plot.text([recordPt], {x: d => d.day - 84.5, y: "t", text: () => "heat record", textAnchor: "start", dy: 8.5, fill: "#a3192f", fontFamily: "Lato", fontWeight: 900, fontSize: 13}),
    Plot.arrow([recordPt], {x1: d => d.day - 40.5, y1: d => d.t - 0.02, x2: d => d.day - 1.2, y2: "t", stroke: "#222", strokeWidth: 1, headLength: 6, bend: 0})
  ]
});
document.getElementById("chart").appendChild(chart);

const legend = document.getElementById("legend");
decades.forEach((d, i) => {
  const el = document.createElement("div");
  el.textContent = d;
  el.style.color = decadeColors[i];
  legend.appendChild(el);
});
</script>
</body></html>
